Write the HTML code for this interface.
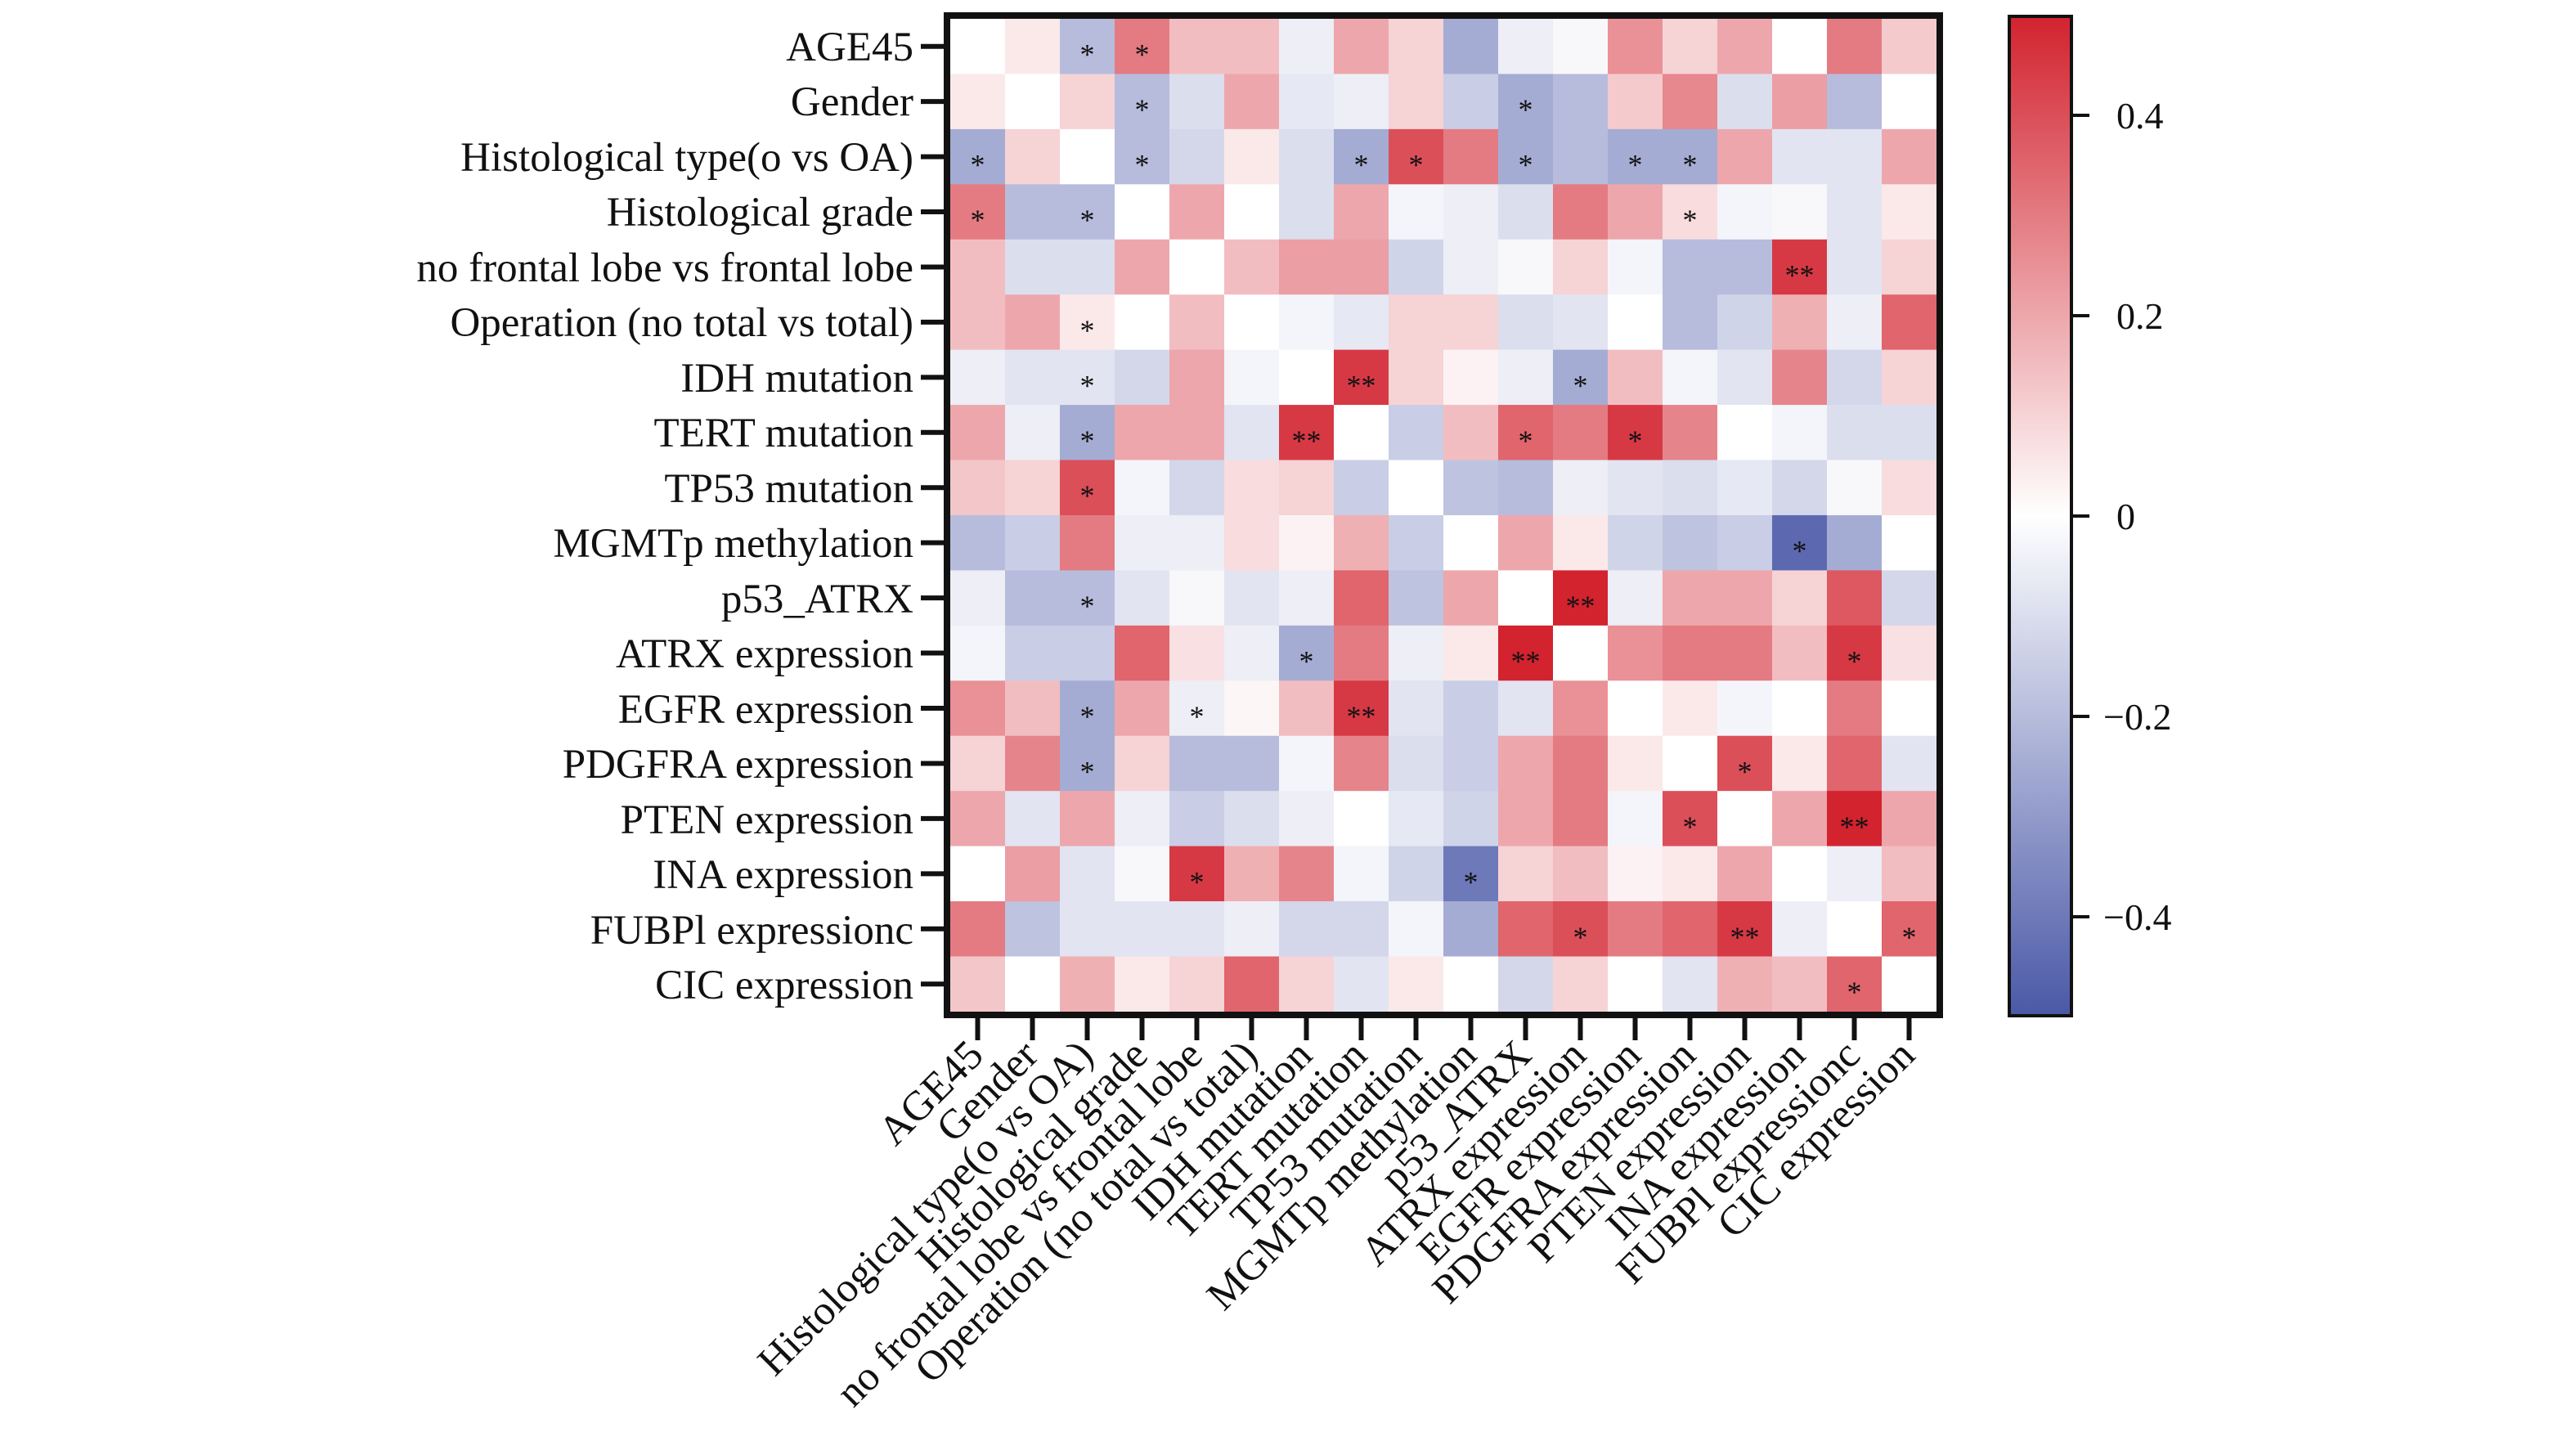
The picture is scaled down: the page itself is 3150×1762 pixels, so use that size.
<!DOCTYPE html>
<html><head><meta charset="utf-8"><style>
html,body{margin:0;padding:0;background:#fff;}
svg{display:block;}
text{font-family:"Liberation Serif",serif;fill:#111;}
</style></head><body>
<svg id="s" width="3150" height="1762" viewBox="0 0 3150 1762" xmlns="http://www.w3.org/2000/svg">
<defs><linearGradient id="cb" x1="0" y1="0" x2="0" y2="1">
<stop offset="0" stop-color="#d2232f"/><stop offset="0.5" stop-color="#ffffff"/><stop offset="1" stop-color="#4a58a7"/>
</linearGradient></defs>
<g id="cells"></g>
<g id="stars" font-size="36" text-anchor="middle"></g>
<rect x="1158" y="19" width="1214" height="1222" fill="none" stroke="#111" stroke-width="8"/>
<g font-size="51" text-anchor="end">
<text x="1117" y="74">AGE45</text>
<text x="1117" y="141">Gender</text>
<text x="1117" y="209">Histological type(o vs OA)</text>
<text x="1117" y="276">Histological grade</text>
<text x="1117" y="344">no frontal lobe vs frontal lobe</text>
<text x="1117" y="411">Operation (no total vs total)</text>
<text x="1117" y="479">IDH mutation</text>
<text x="1117" y="546">TERT mutation</text>
<text x="1117" y="614">TP53 mutation</text>
<text x="1117" y="681">MGMTp methylation</text>
<text x="1117" y="749">p53_ATRX</text>
<text x="1117" y="816">ATRX expression</text>
<text x="1117" y="884">EGFR expression</text>
<text x="1117" y="951">PDGFRA expression</text>
<text x="1117" y="1019">PTEN expression</text>
<text x="1117" y="1086">INA expression</text>
<text x="1117" y="1154">FUBPl expressionc</text>
<text x="1117" y="1221">CIC expression</text>
</g>
<g id="ticks" stroke="#111" stroke-width="6"></g>
<rect x="2457" y="20" width="76" height="1222" fill="url(#cb)" stroke="#111" stroke-width="4"/>
<g stroke="#111" stroke-width="4">
<line x1="2535" y1="141" x2="2555" y2="141"/><line x1="2535" y1="386" x2="2555" y2="386"/>
<line x1="2535" y1="631" x2="2555" y2="631"/><line x1="2535" y1="876" x2="2555" y2="876"/>
<line x1="2535" y1="1121" x2="2555" y2="1121"/>
</g>
<g font-size="46">
<text x="2588" y="157">0.4</text><text x="2588" y="402">0.2</text><text x="2588" y="647">0</text>
<text x="2572" y="892">−0.2</text><text x="2572" y="1137">−0.4</text>
</g>
<g font-size="51" text-anchor="end">
<text transform="translate(1205,1293) rotate(-45)">AGE45</text>
<text transform="translate(1272,1293) rotate(-45)">Gender</text>
<text transform="translate(1339,1293) rotate(-45)">Histological type(o vs OA)</text>
<text transform="translate(1406,1293) rotate(-45)">Histological grade</text>
<text transform="translate(1473,1293) rotate(-45)">no frontal lobe vs frontal lobe</text>
<text transform="translate(1540,1293) rotate(-45)">Operation (no total vs total)</text>
<text transform="translate(1607,1293) rotate(-45)">IDH mutation</text>
<text transform="translate(1674,1293) rotate(-45)">TERT mutation</text>
<text transform="translate(1741,1293) rotate(-45)">TP53 mutation</text>
<text transform="translate(1808,1293) rotate(-45)">MGMTp methylation</text>
<text transform="translate(1875,1293) rotate(-45)">p53_ATRX</text>
<text transform="translate(1942,1293) rotate(-45)">ATRX expression</text>
<text transform="translate(2009,1293) rotate(-45)">EGFR expression</text>
<text transform="translate(2076,1293) rotate(-45)">PDGFRA expression</text>
<text transform="translate(2143,1293) rotate(-45)">PTEN expression</text>
<text transform="translate(2210,1293) rotate(-45)">INA expression</text>
<text transform="translate(2277,1293) rotate(-45)">FUBPl expressionc</text>
<text transform="translate(2344,1293) rotate(-45)">CIC expression</text>
</g>
</svg>
<script>
var V=[
[0,0.5,-2,3,1.5,1.5,-0.5,2,1,-2.5,-0.5,-0.2,2.5,1,2,0,3,1.2],
[0.5,0,1,-2,-1,2,-0.7,-0.5,1,-1.5,-2.5,-2,1.2,2.7,-1,2.2,-2,0],
[-2.5,1,0,-2,-1.2,0.5,-1,-2.5,4,3,-2.5,-2,-2.5,-2.5,2,-0.8,-0.8,2],
[3,-2,-2,0,2,0,-1,2,-0.3,-0.5,-1,3,2,0.8,-0.3,-0.2,-0.8,0.5],
[1.5,-1,-1,2,0,1.5,2.2,2.2,-1.3,-0.5,-0.2,1,-0.3,-2,-2,4.5,-0.8,1],
[1.5,2,0.5,0,1.5,0,-0.3,-0.7,1,1,-1,-0.8,0,-2,-1.3,1.8,-0.5,3.5],
[-0.5,-0.8,-0.8,-1.2,2,-0.3,0,4.5,1,0.3,-0.5,-2.5,1.5,-0.3,-0.8,2.8,-1.2,1],
[2,-0.5,-2.5,2,2,-0.8,4.5,0,-1.5,1.5,3.5,3,4.5,2.8,0,-0.3,-1,-1],
[1.3,1,4,-0.3,-1.2,0.8,1,-1.5,0,-1.8,-2,-0.5,-0.8,-1,-0.7,-1.2,-0.2,0.8],
[-2,-1.5,3,-0.5,-0.5,0.8,0.3,1.8,-1.5,0,2,0.5,-1.3,-1.8,-1.5,-4.5,-2.5,0],
[-0.5,-2,-2,-0.8,-0.2,-0.8,-0.5,3.5,-1.8,2,0,5,-0.5,2,2,1,3.8,-1.2],
[-0.3,-1.5,-1.5,3.5,0.7,-0.5,-2.5,3,-0.5,0.5,5,0,2.5,3,3,1.5,4.5,0.7],
[2.5,1.5,-2.5,2,-0.5,0.2,1.5,4.5,-0.8,-1.5,-0.8,2.5,0,0.5,-0.3,0,3,0],
[1,2.8,-2.5,1,-2,-2,-0.3,2.8,-1,-1.5,2,3,0.5,0,4,0.5,3.5,-0.8],
[2,-0.8,2,-0.5,-1.5,-1,-0.5,0,-0.7,-1.3,2,3,-0.3,4,0,2,5,2],
[0,2.2,-0.8,-0.2,4.5,1.8,2.8,-0.3,-1.3,-4,1,1.5,0.3,0.5,2,0,-0.5,1.5],
[3,-1.8,-0.8,-0.8,-0.8,-0.5,-1.2,-1.2,-0.3,-2.5,3.5,4,3,3.5,4.5,-0.5,0,3.5],
[1.3,0,1.8,0.5,1,3.5,1,-0.8,0.5,0,-1.2,1,0,-0.8,1.8,1.5,3.5,0]];
var S=[[0,2,1],[0,3,1],[1,3,1],[1,10,1],[2,0,1],[2,3,1],[2,7,1],[2,8,1],[2,10,1],[2,12,1],[2,13,1],[3,0,1],[3,2,1],[3,13,1],[4,15,2],[5,2,1],[6,2,1],[6,7,2],[6,11,1],[7,2,1],[7,6,2],[7,10,1],[7,12,1],[8,2,1],[9,15,1],[10,2,1],[10,11,2],[11,6,1],[11,10,2],[11,16,1],[12,2,1],[12,4,1],[12,7,2],[13,2,1],[13,14,1],[14,13,1],[14,16,2],[15,4,1],[15,9,1],[16,11,1],[16,14,2],[16,17,1],[17,16,1]];
var NS="http://www.w3.org/2000/svg";
function col(v){var t=Math.max(-1,Math.min(1,v/5));var a,b;
 if(t>=0){a=[255,255,255];b=[210,35,47];}else{a=[255,255,255];b=[74,88,167];t=-t;}
 var r=[0,1,2].map(function(i){return Math.round(a[i]+(b[i]-a[i])*t)});return "rgb("+r.join(",")+")";}
var g=document.getElementById("cells"),x0=1162,y0=23,w=67,h=67.44;
for(var r=0;r<18;r++)for(var c=0;c<18;c++){var e=document.createElementNS(NS,"rect");
 e.setAttribute("x",x0+c*w);e.setAttribute("y",y0+r*h);e.setAttribute("width",w+0.6);e.setAttribute("height",h+0.6);
 e.setAttribute("fill",col(V[r][c]));g.appendChild(e);}
var sg=document.getElementById("stars");
S.forEach(function(s){var e=document.createElementNS(NS,"text");e.setAttribute("x",x0+s[1]*w+w/2);
 e.setAttribute("y",y0+s[0]*h+h/2+22);e.textContent=s[2]==2?"**":"*";sg.appendChild(e);});
var tg=document.getElementById("ticks");
for(var i=0;i<18;i++){var l=document.createElementNS(NS,"line");var yy=y0+i*h+h/2;
 l.setAttribute("x1",1126);l.setAttribute("x2",1156);l.setAttribute("y1",yy);l.setAttribute("y2",yy);tg.appendChild(l);
 var m=document.createElementNS(NS,"line");var xx=x0+i*w+w/2;
 m.setAttribute("x1",xx);m.setAttribute("x2",xx);m.setAttribute("y1",1243);m.setAttribute("y2",1272);tg.appendChild(m);}
</script>
</body></html>
